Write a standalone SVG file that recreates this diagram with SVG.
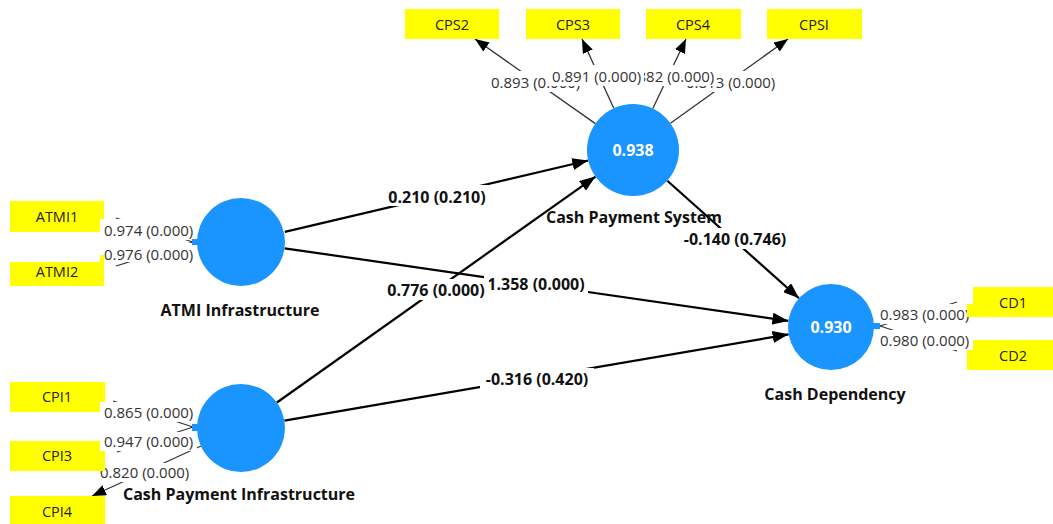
<svg xmlns="http://www.w3.org/2000/svg" width="1053" height="524" viewBox="0 0 1053 524">
<style>
.bg{fill:#fff}
.ind rect{fill:#ffff00}
.ind text{font-family:"Open Sans","Noto Sans",sans-serif;font-size:14.5px;fill:#222;text-anchor:middle}
.lv circle{fill:#1a95ff}
.lv rect{fill:#1a95ff}
.r2{font-family:"Open Sans","Noto Sans",sans-serif;font-size:16px;font-weight:bold;fill:#fff;text-anchor:middle}
.nm{font-family:"Open Sans","Noto Sans",sans-serif;font-size:16px;font-weight:bold;fill:#111;text-anchor:middle}
.ld{font-family:"Open Sans","Noto Sans",sans-serif;font-size:15px;fill:#333}
.pl{font-family:"Open Sans","Noto Sans",sans-serif;font-size:16px;font-weight:bold;fill:#111;text-anchor:middle}
.ol{stroke:#333;stroke-width:1.3;fill:none}
.il{stroke:#000;stroke-width:2.2;fill:none}
</style>
<defs>
<marker id="ah" markerUnits="userSpaceOnUse" markerWidth="16" markerHeight="12" viewBox="0 0 16 12" refX="16" refY="6" orient="auto"><path d="M0,0 L16,6 L0,12 z" fill="#000"/></marker>
<marker id="oh" markerUnits="userSpaceOnUse" markerWidth="14" markerHeight="11" viewBox="0 0 14 11" refX="14" refY="5.5" orient="auto"><path d="M0,0 L14,5.5 L0,11 z" fill="#000"/></marker>
</defs>

<g id="connectors">
  <line class="ol" x1="595.4" y1="123.6" x2="475" y2="39" marker-end="url(#oh)"/>
  <line class="ol" x1="613.8" y1="108.2" x2="582" y2="39" marker-end="url(#oh)"/>
  <line class="ol" x1="652.8" y1="108.5" x2="686" y2="39" marker-end="url(#oh)"/>
  <line class="ol" x1="670.4" y1="123.2" x2="788" y2="39" marker-end="url(#oh)"/>
  <line class="ol" x1="193" y1="242" x2="116" y2="218"/>
  <line class="ol" x1="193" y1="242" x2="116" y2="266"/>
  <line class="ol" x1="193" y1="427" x2="113" y2="401"/>
  <line class="ol" x1="193" y1="427" x2="117" y2="452"/>
  <line class="ol" x1="201" y1="446" x2="92" y2="496" marker-end="url(#oh)"/>
  <line class="ol" x1="880" y1="326" x2="957" y2="302"/>
  <line class="ol" x1="880" y1="326" x2="957" y2="351"/>
  <line class="il" x1="284.8" y1="231.9" x2="588.2" y2="160.5" marker-end="url(#ah)"/>
  <line class="il" x1="284.6" y1="248.3" x2="788.4" y2="320.9" marker-end="url(#ah)"/>
  <line class="il" x1="276.9" y1="402.5" x2="595.5" y2="176.6" marker-end="url(#ah)"/>
  <line class="il" x1="284.4" y1="420.6" x2="788.6" y2="334.3" marker-end="url(#ah)"/>
  <line class="il" x1="667.3" y1="180.7" x2="799" y2="298.3" marker-end="url(#ah)"/>
</g>

<g id="loading-labels">
  <rect class="bg" x="488" y="71" width="95" height="21"/>
  <text class="ld" x="491" y="88">0.893 (0.000)</text>
  <rect class="bg" x="683" y="71" width="95" height="21"/>
  <text class="ld" x="686" y="88">0.813 (0.000)</text>
  <rect class="bg" x="622" y="65" width="93" height="21"/>
  <text class="ld" x="625" y="82">0.882 (0.000)</text>
  <rect class="bg" x="549" y="65" width="95" height="21"/>
  <text class="ld" x="552" y="82">0.891 (0.000)</text>

  <rect class="bg" x="100" y="219" width="97" height="21"/>
  <text class="ld" x="104" y="236">0.974 (0.000)</text>
  <rect class="bg" x="100" y="243" width="97" height="19"/>
  <text class="ld" x="104" y="260">0.976 (0.000)</text>

  <rect class="bg" x="100" y="402" width="97" height="20"/>
  <text class="ld" x="104" y="418">0.865 (0.000)</text>
  <rect class="bg" x="100" y="432" width="97" height="19"/>
  <text class="ld" x="104" y="447">0.947 (0.000)</text>
  <rect class="bg" x="96" y="463" width="97" height="19"/>
  <text class="ld" x="100" y="478">0.820 (0.000)</text>

  <rect class="bg" x="876" y="304" width="97" height="20"/>
  <text class="ld" x="880" y="320">0.983 (0.000)</text>
  <rect class="bg" x="876" y="330" width="97" height="20"/>
  <text class="ld" x="880" y="346">0.980 (0.000)</text>
</g>

<g id="path-labels">
  <rect class="bg" x="484" y="276" width="104" height="19"/>
  <text class="pl" x="536" y="290">1.358 (0.000)</text>
  <rect class="bg" x="382" y="185" width="110" height="21"/>
  <text class="pl" x="437" y="203">0.210 (0.210)</text>
  <rect class="bg" x="382" y="279" width="107" height="21"/>
  <text class="pl" x="436" y="296">0.776 (0.000)</text>
  <rect class="bg" x="678" y="228" width="113" height="21"/>
  <text class="pl" x="735" y="245">-0.140 (0.746)</text>
  <rect class="bg" x="480" y="368" width="114" height="21"/>
  <text class="pl" x="537" y="385">-0.316 (0.420)</text>
</g>

<g id="CPS2" class="ind"><rect x="405" y="9" width="94" height="30"/><text x="452" y="30">CPS2</text></g>
<g id="CPS3" class="ind"><rect x="526" y="9" width="94" height="30"/><text x="573" y="30">CPS3</text></g>
<g id="CPS4" class="ind"><rect x="646" y="9" width="95" height="30"/><text x="693" y="30">CPS4</text></g>
<g id="CPSI" class="ind"><rect x="767" y="9" width="95" height="30"/><text x="814" y="30">CPSI</text></g>
<g id="ATMI1" class="ind"><path d="M10,201 H104 V219 H100 V232 H10 z" fill="#ffff00"/><text x="57" y="222">ATMI1</text></g>
<g id="ATMI2" class="ind"><path d="M10,262 H100 V255 H104 V286 H10 z" fill="#ffff00"/><text x="57" y="277">ATMI2</text></g>
<g id="CPI1" class="ind"><path d="M10,382 H105 V402 H100 V412 H10 z" fill="#ffff00"/><text x="57" y="402">CPI1</text></g>
<g id="CPI3" class="ind"><path d="M10,441 H100 V451 H105 V471 H10 z" fill="#ffff00"/><text x="57" y="461">CPI3</text></g>
<g id="CPI4" class="ind"><rect x="10" y="496" width="95" height="30"/><text x="57" y="517">CPI4</text></g>
<g id="CD1" class="ind"><path d="M973,287 H1053 V317 H967 V304 H973 z" fill="#ffff00"/><text x="1013" y="308">CD1</text></g>
<g id="CD2" class="ind"><path d="M967,350 H973 V340 H1053 V370 H967 z" fill="#ffff00"/><text x="1013" y="361">CD2</text></g>

<g id="CashPaymentSystem" class="lv">
  <circle cx="633" cy="150" r="46"/>
  <text class="r2" x="633" y="156">0.938</text>
  <text class="nm" x="634" y="223">Cash Payment System</text>
</g>
<g id="ATMIInfrastructure" class="lv">
  <rect x="192" y="239" width="8" height="6"/>
  <circle cx="241" cy="242" r="44"/>
  <text class="nm" x="240" y="316">ATMI Infrastructure</text>
</g>
<g id="CashPaymentInfrastructure" class="lv">
  <rect x="192" y="424" width="8" height="7"/>
  <circle cx="241" cy="428" r="44"/>
  <text class="nm" x="239" y="500">Cash Payment Infrastructure</text>
</g>
<g id="CashDependency" class="lv">
  <rect x="872" y="323" width="8" height="6"/>
  <circle cx="831" cy="327" r="43"/>
  <text class="r2" x="831" y="333">0.930</text>
  <text class="nm" x="835" y="400">Cash Dependency</text>
</g>
</svg>
